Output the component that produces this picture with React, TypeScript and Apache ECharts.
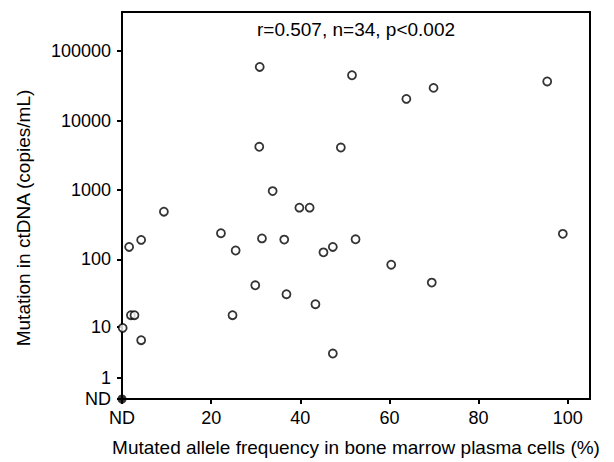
import React, { useEffect, useRef } from "react";
import * as echarts from "echarts";

// Mutated allele frequency in BM plasma cells (%) ; 0 = ND
const mafPercent = [
  30.9, 51.6, 95.4, 69.9, 63.8, 30.8, 49.1, 33.8, 39.8, 42.1, 9.4,
  22.2, 98.9, 1.6, 4.3, 31.4, 36.4, 52.4, 25.5, 45.2, 47.3,
  60.4, 69.5, 29.9, 36.9, 43.4, 2.0, 2.8, 24.8, 0.15, 4.3, 47.3,
];
// Mutation in ctDNA (copies/mL)
const ctDnaCopies = [
  59000, 44800, 36500, 29500, 20500, 4200, 4100, 970, 560, 560, 490,
  240, 235, 152, 192, 202, 194, 196, 135, 127, 152,
  84, 46, 42, 31, 22, 15, 15, 15, 9.5, 6, 3.5,
];
// Not-detected sample (ND / ND)
const ndPoint = [0, 0];

const xTickValues = [0, 20, 40, 60, 80, 100];
const xTickLabels = ["ND", "20", "40", "60", "80", "100"];
const yTickValues = [0, 1, 10, 100, 1000, 10000, 100000];
const yTickLabels = ["ND", "1", "10", "100", "1000", "10000", "100000"];

const annotation = "r=0.507, n=34, p<0.002";
const xTitle = "Mutated allele frequency in bone marrow plasma cells (%)";
const yTitle = "Mutation in ctDNA (copies/mL)";

const tf = (v: number) => Math.log10(v + 1);
const FONT = "'Liberation Sans', Arial, sans-serif";

export default function App() {
  const ref = useRef<HTMLDivElement>(null);
  useEffect(() => {
    if (!ref.current) return;
    const chart = echarts.init(ref.current, null, { renderer: "svg" });
    const yPos = yTickValues.map(tf);
    const scatterData = mafPercent.map((x, i) => [x, tf(ctDnaCopies[i])]);
    chart.setOption({
      animation: false,
      textStyle: { fontFamily: FONT, color: "#000" },
      grid: {
        left: 122,
        right: 24,
        top: 12,
        bottom: 59,
        show: true,
        borderColor: "#000",
        borderWidth: 2,
      },
      xAxis: {
        type: "value",
        min: 0,
        max: 105,
        splitLine: { show: false },
        axisLine: { show: true, lineStyle: { color: "#000", width: 2 } },
        axisTick: {
          show: true,
          length: 5,
          customValues: xTickValues,
          lineStyle: { color: "#000", width: 2 },
        },
        axisLabel: {
          customValues: xTickValues,
          color: "#000",
          fontSize: 18,
          fontFamily: FONT,
          margin: 10,
          formatter: (v: number) => {
            const i = xTickValues.findIndex((t) => Math.abs(t - v) < 1e-6);
            return i >= 0 ? xTickLabels[i] : "";
          },
        },
        name: xTitle,
        nameLocation: "middle",
        nameGap: 39,
        nameTextStyle: { color: "#000", fontSize: 19, fontFamily: FONT },
      },
      yAxis: {
        type: "value",
        min: 0,
        max: 5.56,
        splitLine: { show: false },
        axisLine: { show: true, lineStyle: { color: "#000", width: 2 } },
        axisTick: {
          show: true,
          length: 5,
          customValues: yPos,
          lineStyle: { color: "#000", width: 2 },
        },
        axisLabel: {
          customValues: yPos,
          color: "#000",
          fontSize: 18,
          fontFamily: FONT,
          margin: 11,
          formatter: (v: number) => {
            const i = yPos.findIndex((t) => Math.abs(t - v) < 1e-6);
            return i >= 0 ? yTickLabels[i] : "";
          },
        },
      },
      graphic: [
        {
          type: "text",
          x: 356,
          y: 20,
          style: {
            text: annotation,
            fill: "#000",
            fontSize: 19,
            fontFamily: FONT,
            textAlign: "center",
          },
        },
        {
          type: "text",
          x: 23,
          y: 218,
          rotation: Math.PI / 2,
          style: {
            text: yTitle,
            fill: "#000",
            fontSize: 19,
            fontFamily: FONT,
            textAlign: "center",
            textVerticalAlign: "middle",
          },
        },
      ],
      series: [
        {
          type: "scatter",
          data: scatterData,
          symbol: "circle",
          symbolSize: 8,
          itemStyle: { color: "#fff", borderColor: "#000", borderWidth: 1.8 },
          z: 3,
        },
        {
          type: "scatter",
          data: [[ndPoint[0], tf(ndPoint[1])]],
          symbol: "circle",
          symbolSize: 9,
          clip: false,
          itemStyle: { color: "#000" },
          z: 4,
        },
      ],
    });
    return () => chart.dispose();
  }, []);
  return <div ref={ref} style={{ width: 614, height: 462, position: "absolute", left: 0, top: 0 }} />;
}
